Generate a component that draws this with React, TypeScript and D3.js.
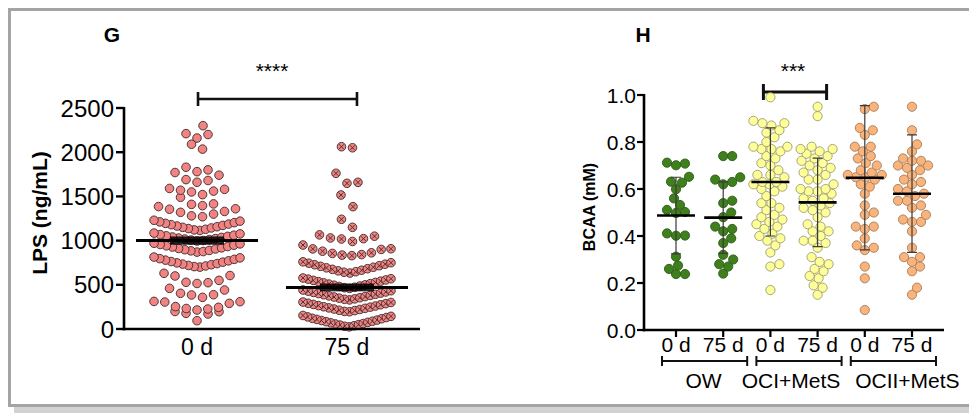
import React from "react";
import * as d3 from "d3";

const W = 969;
const H = 413;
const FONT = "'Liberation Sans', Arial, Helvetica, sans-serif";

// ---------- panel G: LPS (ng/mL) ----------
const lpsGroups = ["0 d", "75 d"];
const lps0d = [
  94, 170, 177, 196, 198, 215, 226, 232, 245, 253, 290, 305, 309, 312, 358, 385, 388, 404, 441, 460,
  515, 524, 528, 550, 600, 605, 630,
  700, 706, 713, 719, 727, 734, 740, 748, 756, 763, 771, 779, 788, 796, 805, 814,
  870, 876, 884, 889, 897, 905, 911, 918, 927, 933, 941, 948, 956, 963, 970,
  995, 1001, 1006, 1012, 1018, 1023, 1029, 1036, 1041, 1048, 1054, 1061, 1068, 1076, 1085,
  1115, 1121, 1128, 1136, 1143, 1150, 1157, 1165, 1172, 1180, 1187, 1195, 1203, 1212, 1220, 1230,
  1270, 1280, 1300, 1320, 1330, 1355, 1360, 1385, 1395, 1410, 1415, 1490, 1520, 1550, 1560, 1570,
  1580, 1590, 1660, 1680, 1690, 1740, 1770, 1780, 1800, 1830, 2035, 2090, 2160, 2200, 2210, 2300,
];
const lps75d = [
  24, 31, 36, 44, 49, 57, 62, 70, 75, 83, 88, 96, 101, 109, 116, 121, 130, 137, 143, 153,
  195, 199, 208, 212, 221, 226, 234, 239, 247, 252, 260, 265, 274, 278, 287, 291, 300, 305,
  329, 336, 341, 349, 354, 362, 367, 375, 380, 388, 393, 401, 406, 414, 419, 428, 433, 441,
  460, 467, 472, 481, 486, 495, 499, 508, 513, 522, 527, 536, 541, 550, 555, 564, 569, 577,
  633, 642, 648, 658, 665, 675, 682, 692, 699, 709, 716, 727, 733, 744, 750, 760,
  830, 836, 842, 855, 862, 880, 900, 906, 908, 950,
  990, 1018, 1022, 1030, 1050, 1065,
  1150, 1241, 1384, 1516, 1648, 1659, 1761, 2050, 2062,
];
const lpsMean = [1000, 470];
const lpsSem = [47, 44];
const lpsTicks = [0, 500, 1000, 1500, 2000, 2500];

// ---------- panel H: BCAA (mM) ----------
const bcaaKeys = ["OW-0", "OW-75", "OCI-0", "OCI-75", "OCII-0", "OCII-75"];
const bcaaTickLabels = ["0 d", "75 d", "0 d", "75 d", "0 d", "75 d"];
const bcaaGroups = ["OW", "OCI+MetS", "OCII+MetS"];
const ow0 = [0.712, 0.708, 0.701, 0.652, 0.631, 0.627, 0.599, 0.56, 0.532, 0.511, 0.502, 0.498, 0.411, 0.402, 0.401, 0.312, 0.274, 0.26, 0.238, 0.238];
const ow75 = [0.74, 0.74, 0.65, 0.64, 0.63, 0.62, 0.55, 0.54, 0.5, 0.48, 0.44, 0.43, 0.42, 0.39, 0.37, 0.32, 0.3, 0.28, 0.27, 0.24];
const oci0 = [
  0.99, 0.89, 0.88, 0.88, 0.87, 0.85, 0.84, 0.82, 0.8, 0.78, 0.78, 0.77, 0.77, 0.76, 0.74, 0.73, 0.71,
  0.7, 0.68, 0.66, 0.66, 0.65, 0.63, 0.63, 0.62, 0.62, 0.61, 0.6, 0.59, 0.57, 0.54, 0.54, 0.52, 0.51,
  0.49, 0.48, 0.47, 0.46, 0.45, 0.44, 0.43, 0.41, 0.4, 0.39, 0.38, 0.36, 0.33, 0.28, 0.27, 0.17,
];
const oci75 = [
  0.95, 0.91, 0.78, 0.77, 0.77, 0.76, 0.75, 0.74, 0.73, 0.72, 0.71, 0.7, 0.69, 0.68, 0.67, 0.66, 0.64,
  0.64, 0.62, 0.6, 0.6, 0.59, 0.59, 0.58, 0.56, 0.56, 0.55, 0.54, 0.53, 0.52, 0.51, 0.5, 0.48, 0.45,
  0.44, 0.42, 0.42, 0.4, 0.38, 0.38, 0.37, 0.35, 0.31, 0.29, 0.28, 0.26, 0.25, 0.23, 0.22, 0.19, 0.18, 0.15,
];
const ocii0 = [
  0.95, 0.94, 0.86, 0.85, 0.83, 0.78, 0.78, 0.76, 0.74, 0.73, 0.71, 0.7, 0.68, 0.67, 0.66, 0.66, 0.65,
  0.65, 0.64, 0.62, 0.61, 0.58, 0.53, 0.5, 0.49, 0.44, 0.44, 0.43, 0.39, 0.36, 0.35, 0.34, 0.27, 0.22, 0.085,
];
const ocii75 = [
  0.95, 0.85, 0.79, 0.76, 0.73, 0.72, 0.72, 0.7, 0.7, 0.69, 0.68, 0.66, 0.64, 0.63, 0.62, 0.6, 0.59,
  0.58, 0.57, 0.55, 0.55, 0.53, 0.52, 0.49, 0.47, 0.46, 0.46, 0.42, 0.35, 0.31, 0.31, 0.29, 0.27, 0.25, 0.18, 0.15,
];
const bcaaValues = [ow0, ow75, oci0, oci75, ocii0, ocii75];
const bcaaMean = [0.487, 0.478, 0.63, 0.543, 0.648, 0.58];
const bcaaSd = [0.163, 0.152, 0.23, 0.188, 0.307, 0.25];
const bcaaFill = ["#3f7f1e", "#3f7f1e", "#ffff99", "#ffff99", "#f8b47c", "#f8b47c"];
const bcaaStroke = ["#2c5e12", "#2c5e12", "#9c9c6c", "#9c9c6c", "#a87c56", "#a87c56"];
const bcaaTicks = [0, 0.2, 0.4, 0.6, 0.8, 1.0];

type Pt = { x: number; y: number };

// Prism-like rows: nearby values share a row, spread out from the middle
function rowLayout(vals: number[], y: (v: number) => number, cx: number, binH: number, halfW: number, maxStep: number): Pt[] {
  const sorted = [...vals].sort((a, b) => a - b);
  const out: Pt[] = [];
  let i = 0;
  let flip = 1;
  while (i < sorted.length) {
    const start = sorted[i];
    const row: number[] = [];
    while (i < sorted.length && sorted[i] < start + binH) row.push(sorted[i++]);
    const n = row.length;
    const step = n > 1 ? Math.min(maxStep, (2 * halfW) / (n - 1)) : 0;
    // lone points get nudged off the middle, alternating sides
    const shift = n === 1 ? flip * 6 : 0;
    if (n === 1) flip = -flip;
    const offs = d3
      .range(n)
      .map((j) => (j - (n - 1) / 2) * step)
      .sort((a, b) => Math.abs(a) - Math.abs(b) || b - a);
    row.forEach((v, j) => out.push({ x: cx + offs[j] + shift, y: y(v) }));
  }
  return out;
}

// simple beeswarm: closest free spot to the centre
function swarm(vals: number[], y: (v: number) => number, cx: number, minD: number, maxHalf: number): Pt[] {
  const sorted = [...vals].sort((a, b) => a - b);
  const placed: Pt[] = [];
  for (const v of sorted) {
    const py = y(v);
    let chosen: number | null = null;
    let best = 0;
    let bestD = -1;
    for (let k = 0; k <= maxHalf * 2; k++) {
      const off = (k % 2 ? 1 : -1) * Math.ceil(k / 2);
      let dmin = Infinity;
      for (const p of placed) {
        const d = Math.hypot(p.x - (cx + off), p.y - py);
        if (d < dmin) dmin = d;
      }
      if (dmin >= minD) {
        chosen = off;
        break;
      }
      if (dmin > bestD) {
        bestD = dmin;
        best = off;
      }
    }
    placed.push({ x: cx + (chosen ?? best), y: py });
  }
  return placed;
}

const PanelG = () => {
  const y = d3.scaleLinear().domain([0, 2500]).range([329, 108]);
  const x = d3.scalePoint<string>().domain(lpsGroups).range([124, 420]).padding(0.487);
  const x0 = x("0 d")!;
  const x1 = x("75 d")!;
  const pts0 = rowLayout(lps0d, y, x0, 118, 43, 11);
  const pts1 = rowLayout(lps75d, y, x1, 130, 44, 11);
  const r = 4.3;
  const c = r * 0.58;
  return (
    <g fontFamily={FONT}>
      <text x={112} y={42} fontSize={21} fontWeight="bold" textAnchor="middle">G</text>
      <text x={272} y={78} fontSize={21} textAnchor="middle">****</text>
      <path d={`M${x0 + 1},92V106M${x0 + 1},99H${x1 + 10}M${x1 + 10},92V106`} stroke="#111" strokeWidth={2.6} fill="none" />

      {pts0.map((p, i) => (
        <circle key={"a" + i} cx={p.x} cy={p.y} r={r} fill="#f38383" stroke="#3a2a2a" strokeWidth={0.9} />
      ))}
      {pts1.map((p, i) => (
        <g key={"b" + i}>
          <circle cx={p.x} cy={p.y} r={r} fill="#f38383" stroke="#3a2a2a" strokeWidth={0.9} />
          <path d={`M${p.x - c},${p.y - c}L${p.x + c},${p.y + c}M${p.x - c},${p.y + c}L${p.x + c},${p.y - c}`} stroke="#3a2a2a" strokeWidth={0.9} />
        </g>
      ))}

      {lpsGroups.map((g, i) => {
        const cx = x(g)!;
        return (
          <g key={g}>
            <rect x={cx - 27} y={y(lpsMean[i] + lpsSem[i])} width={54} height={y(lpsMean[i] - lpsSem[i]) - y(lpsMean[i] + lpsSem[i])} fill="#000" opacity={0.85} />
            <line x1={cx - 61} x2={cx + 61} y1={y(lpsMean[i])} y2={y(lpsMean[i])} stroke="#000" strokeWidth={3} />
          </g>
        );
      })}

      <line x1={124} x2={124} y1={y(2500) - 1} y2={y(0) + 1.3} stroke="#000" strokeWidth={2.6} />
      <line x1={122.7} x2={420} y1={y(0)} y2={y(0)} stroke="#000" strokeWidth={2.6} />
      {lpsTicks.map((t) => (
        <g key={t}>
          <line x1={116} x2={124} y1={y(t)} y2={y(t)} stroke="#000" strokeWidth={2.4} />
          <text x={114} y={y(t)} dy="0.36em" fontSize={24} textAnchor="end">{t}</text>
        </g>
      ))}
      {lpsGroups.map((g) => (
        <text key={g} x={x(g)!} y={355} fontSize={23} textAnchor="middle">{g}</text>
      ))}
      <text transform="translate(39,213) rotate(-90)" fontSize={21} fontWeight="bold" textAnchor="middle" dy="0.36em">LPS (ng/mL)</text>
    </g>
  );
};

const PanelH = () => {
  const y = d3.scaleLinear().domain([0, 1]).range([330, 95]);
  const x = d3.scalePoint<string>().domain(bcaaKeys).range([644, 944]).padding(0.678);
  const r = 4.6;
  const labelShift = [-1, -8, 14];
  return (
    <g fontFamily={FONT}>
      <text x={643} y={42} fontSize={21} fontWeight="bold" textAnchor="middle">H</text>
      <text x={793} y={78} fontSize={21} textAnchor="middle">***</text>
      <path d={`M${x("OCI-0")! - 7},84V100M${x("OCI-0")! - 7},92H${x("OCI-75")! + 9}M${x("OCI-75")! + 9},84V100`} stroke="#111" strokeWidth={3} fill="none" />

      {bcaaKeys.map((k, i) => {
        const pts = swarm(bcaaValues[i], y, x(k)!, 8.6, 17);
        return pts.map((p, j) => (
          <circle key={k + j} cx={p.x} cy={p.y} r={r} fill={bcaaFill[i]} stroke={bcaaStroke[i]} strokeWidth={0.9} />
        ));
      })}

      {bcaaKeys.map((k, i) => {
        const cx = x(k)!;
        const hi = y(bcaaMean[i] + bcaaSd[i]);
        const lo = y(bcaaMean[i] - bcaaSd[i]);
        return (
          <g key={k}>
            <path d={`M${cx},${hi}V${lo}M${cx - 5},${hi}H${cx + 5}M${cx - 5},${lo}H${cx + 5}`} stroke="#3a3a3a" strokeWidth={1.2} fill="none" />
            <line x1={cx - 19} x2={cx + 19} y1={y(bcaaMean[i])} y2={y(bcaaMean[i])} stroke="#000" strokeWidth={2.6} />
          </g>
        );
      })}

      <line x1={644} x2={644} y1={y(1) - 1} y2={y(0) + 1.3} stroke="#000" strokeWidth={2.6} />
      <line x1={642.7} x2={944} y1={y(0)} y2={y(0)} stroke="#000" strokeWidth={2.6} />
      {bcaaTicks.map((t) => (
        <g key={t}>
          <line x1={637} x2={644} y1={y(t)} y2={y(t)} stroke="#000" strokeWidth={2.2} />
          <text x={636} y={y(t)} dy="0.36em" fontSize={21} textAnchor="end">{d3.format(".1f")(t)}</text>
        </g>
      ))}
      {bcaaKeys.map((k, i) => (
        <g key={k}>
          <line x1={x(k)!} x2={x(k)!} y1={y(0)} y2={y(0) + 7} stroke="#000" strokeWidth={2.2} />
          <text x={x(k)!} y={352} fontSize={21} textAnchor="middle">{bcaaTickLabels[i]}</text>
        </g>
      ))}
      {bcaaGroups.map((g, i) => {
        const a = x(bcaaKeys[i * 2])! - 14;
        const b = x(bcaaKeys[i * 2 + 1])! + 24;
        return (
          <g key={g}>
            <path d={`M${a},356V366M${a},361H${b}M${b},356V366`} stroke="#111" strokeWidth={2} fill="none" />
            <text x={(a + b) / 2 + labelShift[i]} y={388} fontSize={21} textAnchor="middle">{g}</text>
          </g>
        );
      })}
      <text transform="translate(589,207) rotate(-90)" fontSize={16} fontWeight="bold" textAnchor="middle" dy="0.36em">BCAA (mM)</text>
    </g>
  );
};

export default function App() {
  return (
    <svg width={W} height={H} style={{ position: "absolute", left: 0, top: 0, background: "#fff" }}>
      <rect x={0} y={0} width={W} height={H} fill="#fff" />
      <rect x={14} y={407} width={W} height={6} fill="#d2d2d2" />
      <rect x={9.5} y={9.5} width={W + 10} height={396} fill="none" stroke="#a4a4a4" strokeWidth={3} />
      <PanelG />
      <PanelH />
    </svg>
  );
}
